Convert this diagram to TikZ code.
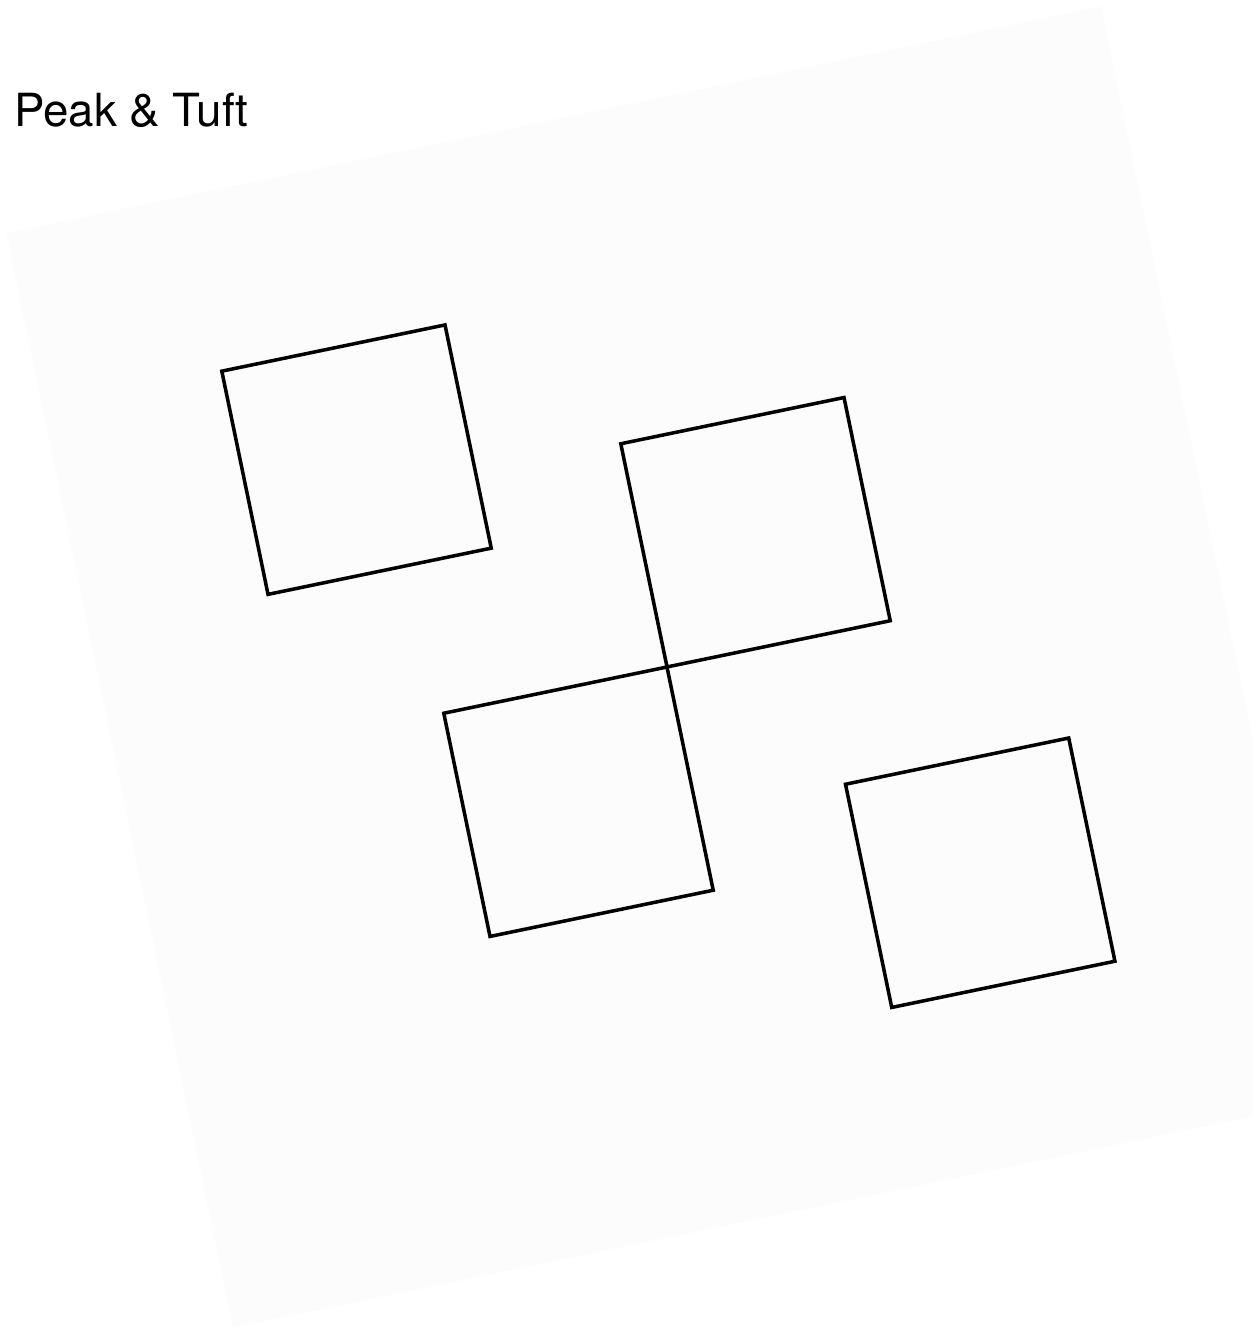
\documentclass[tikz,border=0pt]{standalone}
\usepackage{fontspec}
\setmainfont{TeX Gyre Heros}
\definecolor{paper}{RGB}{252,252,252}

\begin{document}
\begin{tikzpicture}[x=0.02cm, y=0.02cm,
  tile/.style={rectangle, draw, line width=2pt,
               minimum size=4.56cm, inner sep=0pt},
  brand/.style={font=\fontsize{26}{30}\selectfont,
                anchor=base west, inner sep=0pt}
]
  \useasboundingbox (0,0) rectangle (1254,1328);

  % faint tilted sheet behind the tiles
  \begin{scope}
    \clip (0,0) rectangle (1254,1328);
    \begin{scope}[shift={(667,661)}, rotate=11.7]
      \fill[paper] (-559,-559) rectangle (559,559);
    \end{scope}
  \end{scope}

  % four tiles, the middle two touching at one corner
  \begin{scope}[shift={(667,661)}, rotate=11.7, transform shape]
    \node[tile] (tileA) at (-262,266) {};
    \node[tile] (tileB) at (114,114) {};
    \node[tile] (tileC) at (-114,-114) {};
    \node[tile] (tileD) at (265,-265) {};
  \end{scope}

  % brand name
  \node[brand] (title) at (14,1201) {Peak \& Tuft};
\end{tikzpicture}
\end{document}
